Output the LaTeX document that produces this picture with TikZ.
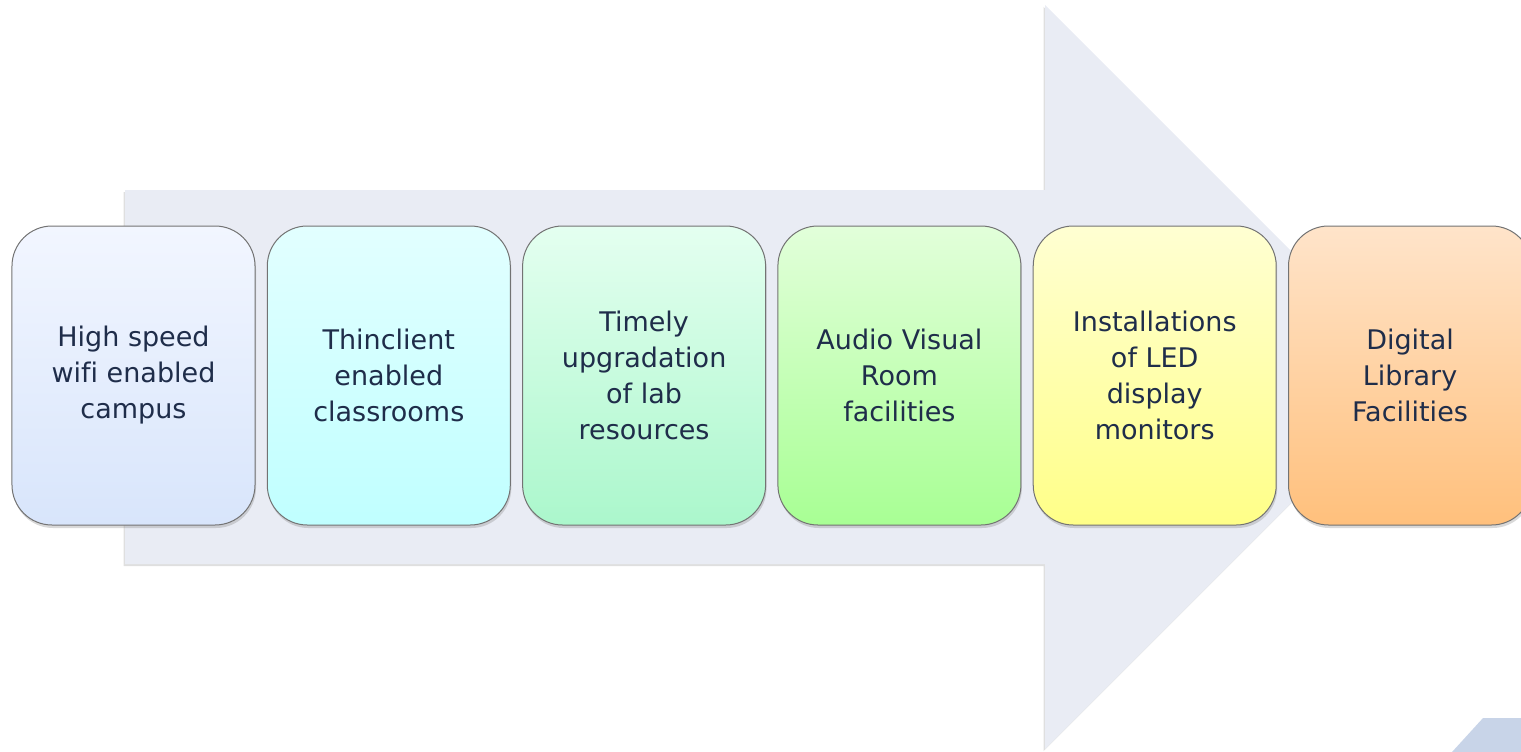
\documentclass[tikz,border=0pt]{standalone}
\usepackage{fontspec}
\setmainfont[Ligatures=NoCommon]{DejaVu Sans}
\usetikzlibrary{positioning,shadows}
\definecolor{arrowfill}{HTML}{E9ECF4}
\definecolor{cornerfill}{HTML}{C8D4E8}
\definecolor{textcol}{HTML}{1F2D4A}
\definecolor{wifitop}{HTML}{F2F6FF}\definecolor{wifibot}{HTML}{D8E5FB}
\definecolor{thintop}{HTML}{E2FFFF}\definecolor{thinbot}{HTML}{C0FFFF}
\definecolor{labtop}{HTML}{E4FFF0}\definecolor{labbot}{HTML}{ABF7CC}
\definecolor{audiotop}{HTML}{E2FFDA}\definecolor{audiobot}{HTML}{A8FF94}
\definecolor{ledtop}{HTML}{FFFFD2}\definecolor{ledbot}{HTML}{FFFF88}
\definecolor{libtop}{HTML}{FFE4CA}\definecolor{libbot}{HTML}{FFC07C}
\begin{document}
\begin{tikzpicture}[x=1bp,y=-1bp,
            stepbox/.style={draw=black!55, line width=1bp, rounded corners=40bp,
                minimum width=243bp, minimum height=299bp, align=center, outer sep=0pt,
                text=textcol, font=\fontsize{27bp}{36bp}\selectfont,
                drop shadow={shadow xshift=1bp, shadow yshift=-3bp, opacity=0.3}},
            node distance=12.3bp]

            \useasboundingbox (0,0) rectangle (1521,752);

            % big arrow behind the steps
            \fill[arrowfill, drop shadow={shadow xshift=-1.5bp, shadow yshift=-2bp, opacity=0.25}]
                (125,190) -- (1045,190) -- (1045,5) -- (1417,377) -- (1045,749)
                -- (1045,564) -- (125,564) -- cycle;

            % corner piece
            \fill[cornerfill] (1483,718) -- (1521,718) -- (1521,752) -- (1452,752) -- cycle;

            \node[stepbox, top color=wifitop, bottom color=wifibot] (wifi) at (133.5,375.5)
                {High speed\\wifi enabled\\campus};
            \node[stepbox, top color=thintop, bottom color=thinbot, right=of wifi] (thin)
                {Thinclient\\enabled\\classrooms};
            \node[stepbox, top color=labtop, bottom color=labbot, right=of thin] (lab)
                {Timely\\upgradation\\of lab\\resources};
            \node[stepbox, top color=audiotop, bottom color=audiobot, right=of lab] (audio)
                {Audio Visual\\Room\\facilities};
            \node[stepbox, top color=ledtop, bottom color=ledbot, right=of audio] (led)
                {Installations\\of LED\\display\\monitors};
            \node[stepbox, top color=libtop, bottom color=libbot, right=of led] (lib)
                {Digital\\Library\\Facilities};
        \end{tikzpicture}
\end{document}
